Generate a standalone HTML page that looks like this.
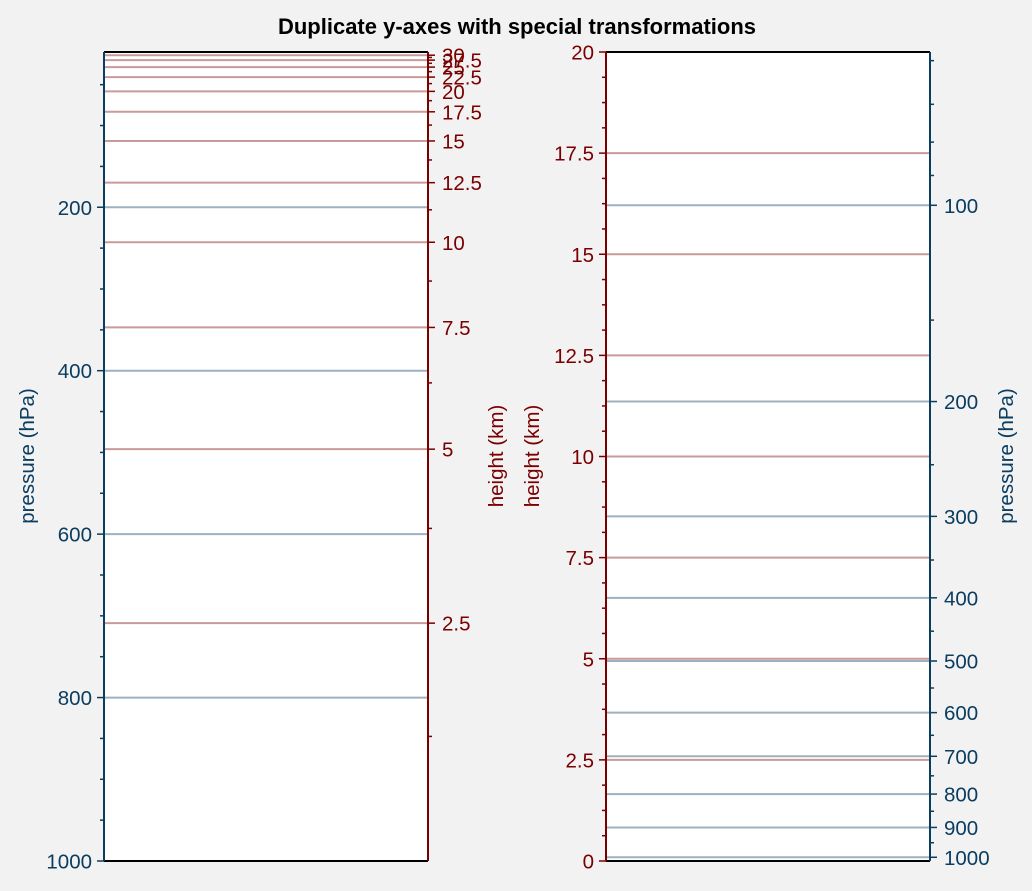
<!DOCTYPE html>
<html><head><meta charset="utf-8"><style>
body{margin:0;background:#f2f2f2;}
svg{display:block;font-family:"Liberation Sans",Arial,sans-serif;}
</style></head><body>
<svg id="c" width="1032" height="891">
<rect width="1032" height="891" fill="#f2f2f2"/>
<text x="517" y="34" text-anchor="middle" font-size="22" font-weight="bold" fill="#000">Duplicate y-axes with special transformations</text>
<g id="g"></g>
</svg>
<script>
const pressureTicksLeft=[200,400,600,800,1000];
const heightTicksLeft=[2.5,5,7.5,10,12.5,15,17.5,20,22.5,25,27.5,30];
const heightTicksRight=[0,2.5,5,7.5,10,12.5,15,17.5,20];
const pressureTicksRight=[100,200,300,400,500,600,700,800,900,1000];
const scaleHeight=7, p0=1013.25;
const BLUE='#0b3d60', RED='#7a0000';
const FS=20.5;
const g=document.getElementById('g'), NS='http://www.w3.org/2000/svg';
function mk(t,a,name,parent){const e=document.createElementNS(NS,t);for(const k in a)e.setAttribute(k,a[k]);


(parent||g).appendChild(e);return e;}
const h2p=h=>p0*Math.exp(-h/scaleHeight);
const L={x0:104,x1:428};
const yP=p=>861-(1000-p)*(861-52)/(1000-10);
const R={x0:606,x1:930};
const yH=h=>861-h*(861-52)/20;
function line(x0,x1,y,c,n){mk('line',{x1:x0,x2:x1,y1:y,y2:y,stroke:c,'stroke-width':2,'stroke-opacity':0.4},n);}
function txt(x,y,s,c,anc,n){const t=mk('text',{x:x,y:y+1,fill:c,'font-size':FS,'text-anchor':anc,'dominant-baseline':'central'},n);t.textContent=s;}
function tick(x,y,dx,c,n){mk('line',{x1:x,x2:x+dx,y1:y,y2:y,stroke:c,'stroke-width':1.5},n);}
mk('rect',{x:L.x0,y:52,width:L.x1-L.x0,height:809,fill:'#fff'},'left-plot-area');
mk('rect',{x:R.x0,y:52,width:R.x1-R.x0,height:809,fill:'#fff'},'right-plot-area');
heightTicksLeft.forEach(h=>{const y=yP(h2p(h));if(y>=52)line(L.x0,L.x1,y,RED,'left-height-gridline');});
pressureTicksLeft.forEach(p=>{if(p<1000)line(L.x0,L.x1,yP(p),BLUE,'left-pressure-gridline');});
heightTicksRight.forEach(h=>{if(h>0&&h<20)line(R.x0,R.x1,yH(h),RED,'right-height-gridline');});
pressureTicksRight.forEach(p=>line(R.x0,R.x1,yH(scaleHeight*Math.log(p0/p)),BLUE,'right-pressure-gridline'));
pressureTicksLeft.forEach(p=>{const y=yP(p);tick(L.x0,y,-7,BLUE,'left-pressure-tick');txt(L.x0-12,y,String(p),BLUE,'end','left-pressure-label');});
for(let p=50;p<1000;p+=50)if(p%200)tick(L.x0,yP(p),-4,BLUE,'left-pressure-minor-tick');
heightTicksLeft.forEach(h=>{const y=yP(h2p(h));tick(L.x1,y,7,RED,'left-height-tick');txt(L.x1+14,y,String(h),RED,'start','left-height-label');});
for(let h=1.25;h<31;h+=2.5){const y=yP(h2p(h));if(y>=52)tick(L.x1,y,4,RED,'left-height-minor-tick');}
heightTicksRight.forEach(h=>{const y=yH(h);tick(R.x0,y,-7,RED,'right-height-tick');txt(R.x0-12,y,String(h),RED,'end','right-height-label');});
for(let h=0.625;h<20;h+=0.625)if(Math.abs(h/2.5-Math.round(h/2.5))>0.01)tick(R.x0,yH(h),-4,RED,'right-height-minor-tick');
pressureTicksRight.forEach(p=>{const y=yH(scaleHeight*Math.log(p0/p));tick(R.x1,y,7,BLUE,'right-pressure-tick');txt(R.x1+14,y,String(p),BLUE,'start','right-pressure-label');});
[60,70,80,90,150,250,350,450,550,650,750,850,950].forEach(p=>{const y=yH(scaleHeight*Math.log(p0/p));if(y>=52)tick(R.x1,y,4,BLUE,'right-pressure-minor-tick');});
function sp(x1,y1,x2,y2,c,n){mk('line',{x1,y1,x2,y2,stroke:c,'stroke-width':2},n);}
sp(L.x0,52,L.x1,52,'#000','left-top-spine');sp(L.x0,861,L.x1,861,'#000','left-bottom-spine');
sp(L.x0,52,L.x0,861,BLUE,'left-pressure-spine');sp(L.x1,52,L.x1,861,RED,'left-height-spine');
sp(R.x0,52,R.x1,52,'#000','right-top-spine');sp(R.x0,861,R.x1,861,'#000','right-bottom-spine');
sp(R.x0,52,R.x0,861,RED,'right-height-spine');sp(R.x1,52,R.x1,861,BLUE,'right-pressure-spine');
function vt(x,y,s,c,n){const t=mk('text',{x:0,y:0,fill:c,'font-size':FS,'text-anchor':'middle',transform:`translate(${x},${y}) rotate(-90)`},n);t.textContent=s;}
vt(34,456,'pressure (hPa)',BLUE,'left-pressure-axis-title');
vt(503,456,'height (km)',RED,'left-height-axis-title');
vt(539,456,'height (km)',RED,'right-height-axis-title');
vt(1013,456,'pressure (hPa)',BLUE,'right-pressure-axis-title');
</script>
</body></html>
